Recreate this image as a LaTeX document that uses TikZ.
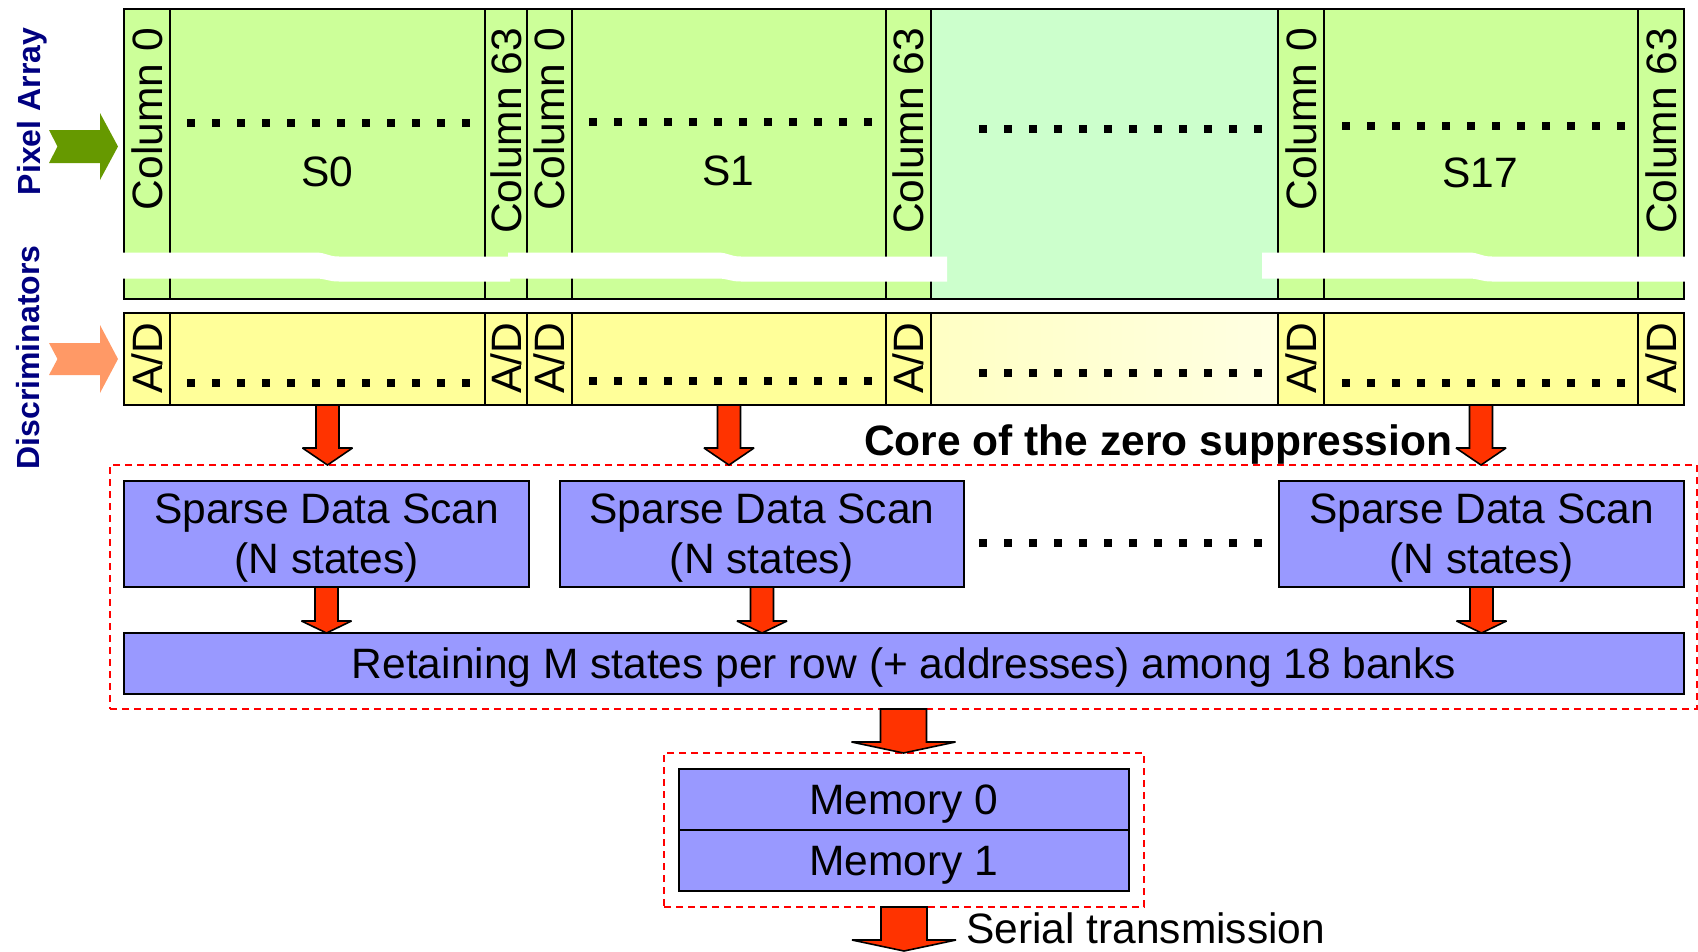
\documentclass[tikz,border=0pt]{standalone}
\usepackage{fontspec}
\setmainfont{Liberation Sans}
\usetikzlibrary{calc}
\definecolor{pixgreen}{HTML}{CCFF99}
\definecolor{mint}{HTML}{CCFFCC}
\definecolor{adyellow}{HTML}{FFFF99}
\definecolor{admidL}{HTML}{FFFFC4}
\definecolor{admidR}{HTML}{FFFFE2}
\definecolor{sdsblue}{HTML}{9999FF}
\definecolor{redarr}{HTML}{FF3300}
\definecolor{greenarr}{HTML}{669900}
\definecolor{orangearr}{HTML}{FF9966}
\definecolor{navylab}{HTML}{000080}
\definecolor{dashred}{HTML}{FF0000}
\newcommand{\myBigFont}{\fontsize{42.5}{50}\selectfont}
\newcommand{\mySideFont}{\fontsize{32}{38}\selectfont\bfseries}
\newcommand{\rarrow}[5]{%
  \draw[redarrow] let \p1=#1, \p2=#2 in
    (\x1-#3pt,\y1) -- (\x1+#3pt,\y1) -- (\x1+#3pt,\y2+#5pt) -- (\x1+#4pt,\y2+#5pt)
    -- (\x1,\y2) -- (\x1-#4pt,\y2+#5pt) -- (\x1-#3pt,\y2+#5pt) -- cycle;}
\newcommand{\dotrow}[2]{\draw[dotline] (#1,#2) -- ++(283,0);}
\newcommand{\bandseg}[3]{\fill[white] (#1,252.5) -- (#2-12,252.5) .. controls (#2,252.5) and (#2,256.5) .. (#2+12,256.5) -- (#3,256.5) -- (#3,281.5) -- (#2+12,281.5) .. controls (#2,281.5) and (#2,278.5) .. (#2-12,278.5) -- (#1,278.5) -- cycle;}
\tikzset{
  cellbase/.style={draw=black, line width=1.5pt, inner sep=0pt, outer sep=0pt},
  pcell/.style={cellbase, fill=pixgreen, minimum height=290pt},
  mcell/.style={cellbase, fill=mint, minimum height=290pt},
  adcell/.style={cellbase, fill=adyellow, minimum height=92pt},
  coltext/.style={rotate=90, anchor=east, inner sep=0pt, text depth=0pt, font=\myBigFont},
  adtext/.style={rotate=90, inner sep=0pt, text depth=0pt, font=\myBigFont},
  slabel/.style={inner sep=0pt, text depth=0pt, font=\myBigFont},
  bluebox/.style={draw=black, line width=2pt, fill=sdsblue, inner sep=0pt, outer sep=0pt, text depth=0pt, align=center, font=\myBigFont},
  dashbox/.style={draw=dashred, line width=1.6pt, dash pattern=on 7pt off 5pt, inner sep=0pt, outer sep=0pt},
  redarrow/.style={fill=redarr, draw=black, line width=1.6pt, miter limit=3},
  dotline/.style={line width=7.5pt, dash pattern=on 7.5pt off 17.5pt},
  sidelabel/.style={rotate=90, inner sep=0pt, text=navylab, font=\mySideFont},
  plaintext/.style={inner sep=0pt, font=\myBigFont},
}
\begin{document}
\begin{tikzpicture}[x=1pt, y=-1pt]
\useasboundingbox (0,0) rectangle (1698,951);

% pixel array
\node[pcell, minimum width=46] (p0c0) at (147,154) {};
\node[pcell, minimum width=315] (p0) at (327.5,154) {};
\node[pcell, minimum width=42] (p0c63) at (506,154) {};
\node[pcell, minimum width=45] (p1c0) at (549.5,154) {};
\node[pcell, minimum width=314] (p1) at (729,154) {};
\node[pcell, minimum width=45] (p1c63) at (908.5,154) {};
\node[mcell, minimum width=347] (pmid) at (1104.5,154) {};
\node[pcell, minimum width=46] (p17c0) at (1301,154) {};
\node[pcell, minimum width=314] (p17) at (1481,154) {};
\node[pcell, minimum width=46] (p17c63) at (1661,154) {};

% discriminators
\node[adcell, minimum width=46] (a0c0) at (147,359) {};
\node[adcell, minimum width=315] (a0) at (327.5,359) {};
\node[adcell, minimum width=42] (a0c63) at (506,359) {};
\node[adcell, minimum width=45] (a1c0) at (549.5,359) {};
\node[adcell, minimum width=314] (a1) at (729,359) {};
\node[adcell, minimum width=45] (a1c63) at (908.5,359) {};
\node[adcell, minimum width=347, left color=admidL, right color=admidR] (amid) at (1104.5,359) {};
\node[adcell, minimum width=46] (a17c0) at (1301,359) {};
\node[adcell, minimum width=314] (a17) at (1481,359) {};
\node[adcell, minimum width=46] (a17c63) at (1661,359) {};

% column labels
\node[coltext] (tc0a) at (147,28) {Column 0};
\node[coltext] (tc63a) at (506,28) {Column 63};
\node[coltext] (tc0b) at (549.5,28) {Column 0};
\node[coltext] (tc63b) at (908.5,28) {Column 63};
\node[coltext] (tc0c) at (1301,28) {Column 0};
\node[coltext] (tc63c) at (1661,28) {Column 63};

% A/D labels
\node[adtext] (ad1) at (147,358.5) {A/D};
\node[adtext] (ad2) at (506,358.5) {A/D};
\node[adtext] (ad3) at (549.5,358.5) {A/D};
\node[adtext] (ad4) at (908.5,358.5) {A/D};
\node[adtext] (ad5) at (1301,358.5) {A/D};
\node[adtext] (ad6) at (1661,358.5) {A/D};

% section labels
\node[slabel] (s0) at (327,172) {S0};
\node[slabel] (s1) at (728,171) {S1};
\node[slabel] (s17) at (1480,173) {S17};

% dots
\dotrow{187}{123}
\dotrow{589}{122}
\dotrow{979}{129}
\dotrow{1342}{126}
\dotrow{187}{383}
\dotrow{589}{381}
\dotrow{979}{373}
\dotrow{1342}{383}
\dotrow{979}{543}

% white break band
\bandseg{121}{327}{510}
\bandseg{508}{729}{947}
\bandseg{1262}{1480}{1687}

% side arrows
\fill[greenarr] (49,130) -- (100,130) -- (100,113) -- (118,146.5) -- (100,180) -- (100,163) -- (49,163) -- (57.5,146.5) -- cycle;
\fill[orangearr] (49,343) -- (100,343) -- (100,325) -- (118,359) -- (100,393) -- (100,375) -- (49,375) -- (57.5,359) -- cycle;

% side labels
\node[sidelabel] (lpix) at (32.5,111.5) {Pixel Array};
\node[sidelabel] (ldis) at (28,357.5) {Discriminators};

% zero suppression core
\node[dashbox, minimum width=1587, minimum height=244] (core) at (903.5,587) {};
\node[bluebox, minimum width=405, minimum height=106] (sds1) at (326.5,534) {Sparse Data Scan\\(N states)};
\node[bluebox, minimum width=404, minimum height=106] (sds2) at (762,534) {Sparse Data Scan\\(N states)};
\node[bluebox, minimum width=405, minimum height=106] (sds3) at (1481.5,534) {Sparse Data Scan\\(N states)};
\node[bluebox, minimum width=1560, minimum height=61] (ret) at (904,663.5) {Retaining M states per row (+ addresses) among 18 banks};
\node[plaintext, font=\myBigFont\bfseries, anchor=base west] (corelabel) at (864,455) {Core of the zero suppression};

% memory
\node[dashbox, minimum width=480, minimum height=154] (memgroup) at (904,830) {};
\node[bluebox, minimum width=450, minimum height=61] (mem0) at (904,799.5) {Memory 0};
\node[bluebox, minimum width=450, minimum height=61] (mem1) at (904,860.5) {Memory 1};
\coordinate (out) at (904,951);
\node[plaintext, anchor=base west] (serial) at (966,943) {Serial transmission};

% red arrows
\rarrow{(a0.south)}{(core.north)}{11.5}{25}{17}
\rarrow{(a1.south)}{(core.north)}{11.5}{25}{17}
\rarrow{(a17.south)}{(core.north)}{11.5}{25}{17}
\rarrow{(sds1.south)}{(ret.north)}{11.5}{25}{12}
\rarrow{(sds2.south)}{(ret.north)}{11.5}{25}{12}
\rarrow{(sds3.south)}{(ret.north)}{11.5}{25}{12}
\rarrow{(core.south)}{(memgroup.north)}{23}{52}{11}
\rarrow{(memgroup.south)}{(out)}{23}{52}{11}
\end{tikzpicture}
\end{document}
